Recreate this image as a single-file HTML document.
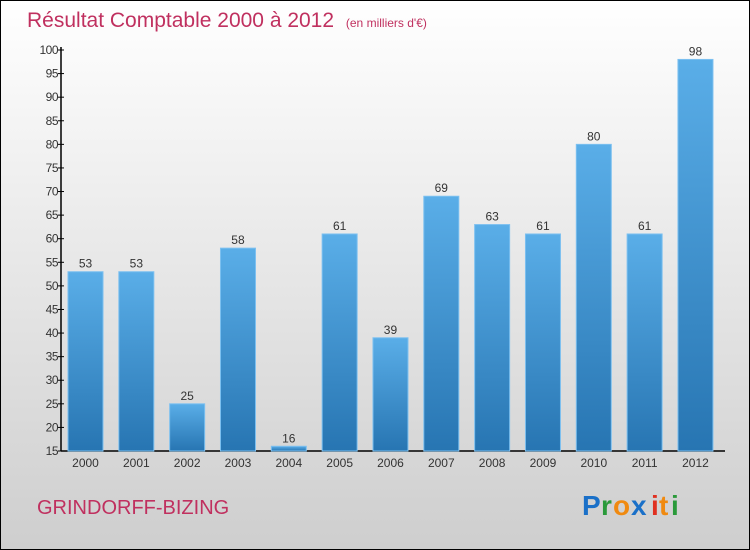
<!DOCTYPE html>
<html><head><meta charset="utf-8"><style>
html,body{margin:0;padding:0;width:750px;height:550px;overflow:hidden;background:#fff}
svg{display:block;font-family:"Liberation Sans",sans-serif}
</style></head><body>
<svg id="chart" width="750" height="550" viewBox="0 0 750 550" xmlns="http://www.w3.org/2000/svg">
<defs>
<linearGradient id="bg" x1="0" y1="0" x2="0" y2="1"><stop offset="0" stop-color="#ffffff"/><stop offset="1" stop-color="#cecece"/></linearGradient>
<linearGradient id="bar" x1="0" y1="0" x2="0" y2="1"><stop offset="0" stop-color="#5aaee8"/><stop offset="1" stop-color="#2775b2"/></linearGradient>
</defs>
<rect x="0.5" y="0.5" width="749" height="549" fill="url(#bg)" stroke="#000"/>
<text x="27" y="27" font-size="21" fill="#c0305f">Résultat Comptable 2000 à 2012 <tspan font-size="12" dx="6">(en milliers d'€)</tspan></text>
<g id="axes"></g>
<g id="bars"></g>
<text x="37" y="514" font-size="20" fill="#c0305f">GRINDORFF-BIZING</text>
<g font-size="28" font-weight="bold" font-family="'Liberation Sans',sans-serif">
<text x="582" y="515" fill="#1a70c8">P</text><text x="601" y="515" fill="#2a9a3a">r</text><text x="613" y="515" fill="#f08a10">o</text><text x="631" y="515" fill="#1a70c8">x</text><text x="651" y="515" fill="#e03020">i</text><text x="659" y="515" fill="#f08a10">t</text><text x="671" y="515" fill="#2a9a3a">i</text>
</g>
</svg>
<script>
const categories=["2000","2001","2002","2003","2004","2005","2006","2007","2008","2009","2010","2011","2012"];
const values=[53,53,25,58,16,61,39,69,63,61,80,61,98];
const yTicks=[15,20,25,30,35,40,45,50,55,60,65,70,75,80,85,90,95,100];
const NS="http://www.w3.org/2000/svg";
const yMin=15,yMax=100,yTop=50,yBot=451;
function y(v){return yBot-(v-yMin)/(yMax-yMin)*(yBot-yTop);}
function x(i){return 68+i*50.83;}
const bw=35;
function mk(t,a,p){const e=document.createElementNS(NS,t);for(const k in a)e.setAttribute(k,a[k]);p.appendChild(e);return e;}
const ax=document.getElementById('axes'),bg=document.getElementById('bars');
let l=mk('line',{x1:61,y1:yTop-3,x2:61,y2:yBot,stroke:'#000','stroke-width':1.5},ax);


l=mk('line',{x1:61,y1:yBot,x2:725,y2:yBot,stroke:'#000','stroke-width':1.5},ax);


yTicks.forEach(v=>{
 const t=mk('line',{x1:58,y1:y(v),x2:64,y2:y(v),stroke:'#000'},ax);
 
 
 const tx=mk('text',{x:58,y:y(v)+4,'text-anchor':'end','font-size':12,fill:'#333','letter-spacing':'-0.5'},ax);
 tx.textContent=v;
 
 
});
categories.forEach((c,i)=>{
 const r=mk('rect',{x:x(i),y:y(values[i]),width:bw,height:yBot-y(values[i]),fill:'url(#bar)',stroke:'#7cc0f0','stroke-width':1},bg);
 
 
 const vl=mk('text',{x:x(i)+bw/2,y:y(values[i])-4,'text-anchor':'middle','font-size':12,fill:'#333'},bg);
 vl.textContent=values[i];
 
 
 const xl=mk('text',{x:x(i)+bw/2,y:467,'text-anchor':'middle','font-size':12,fill:'#333'},bg);
 xl.textContent=c;
 
 
});
</script>
</body></html>
